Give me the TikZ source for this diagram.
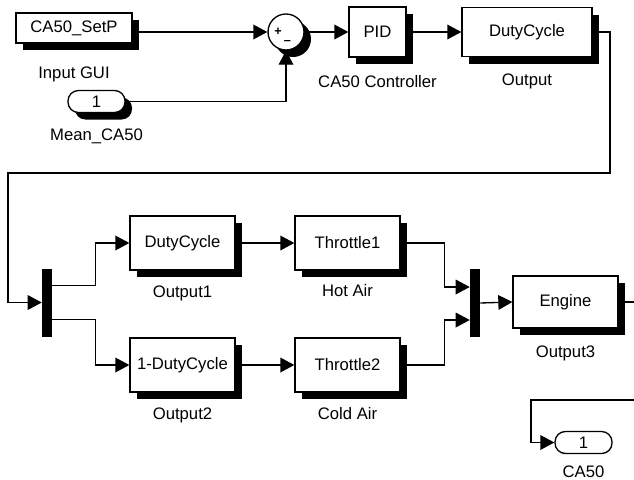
\documentclass[tikz,border=0pt]{standalone}
\usepackage{fontspec}
\setmainfont{Liberation Sans}
\usetikzlibrary{arrows.meta}
\usetikzlibrary{shadows,positioning}
\tikzstyle{sl}=[line width=1pt,>/.tip={Triangle[length=10.5pt,width=11pt]},->]
\tikzstyle{wr}=[line width=1pt]
\tikzstyle{shd}=[drop shadow={shadow xshift=5.25pt,shadow yshift=-5.25pt,fill=black,opacity=1}]
\tikzstyle{blk}=[draw,line width=1pt,fill=white,shd,inner sep=0pt]
\tikzstyle{bar}=[fill=black,minimum width=7.5pt,minimum height=51pt,inner sep=0pt]
\tikzstyle{port}=[draw,line width=1pt,fill=white,rounded corners=7.8pt,minimum width=42.75pt,minimum height=16.5pt,inner sep=0pt]
\tikzstyle{lbl}=[inner sep=0pt]
\tikzstyle{sgn}=[inner sep=0pt,font=\fontsize{9.5}{10}\bfseries]

\begin{document}
\begin{tikzpicture}[x=0.75pt,y=0.75pt,font=\fontsize{12.5}{14}\selectfont]
	\useasboundingbox (0,0) rectangle (634,-479);
	% top row
	\node[blk,minimum width=87pt,minimum height=22.5pt] (setp) at (74,-28) {CA50\_SetP};
	\node[lbl,below=17pt of setp] (setpL) {Input GUI};
	\node[blk,circle,minimum size=27pt] (sum) at (286,-32) {};
	\node[sgn] (sp) at (278,-32) {+};
	\node[sgn] (sm) at (287.5,-42) {–};
	\node[blk,port] (mean) at (96.5,-101.5) {1};
	\node[lbl,below=11.25pt of mean] (meanL) {Mean\_CA50};
	\node[blk,minimum width=42.75pt,minimum height=37.5pt] (pid) at (377.5,-32) {PID};
	\node[lbl,below=13pt of pid] (pidL) {CA50 Controller};
	\node[blk,minimum width=97.5pt,minimum height=36.75pt] (duty) at (527,-32) {DutyCycle};
	\node[lbl,below=12.5pt of duty] (dutyL) {Output};
	% middle row
	\node[bar] (demux) at (47,-302.5) {};
	\node[blk,minimum width=78.75pt,minimum height=40.5pt] (duty1) at (182.5,-243) {DutyCycle};
	\node[lbl,below=11.25pt of duty1] (duty1L) {Output1};
	\node[blk,minimum width=78.75pt,minimum height=40.5pt] (duty2) at (182.5,-365) {1-DutyCycle};
	\node[lbl,below=11.25pt of duty2] (duty2L) {Output2};
	\node[blk,minimum width=78.75pt,minimum height=40.5pt] (thr1) at (347.5,-243) {Throttle1};
	\node[lbl,below=10pt of thr1] (thr1L) {Hot Air};
	\node[blk,minimum width=78.75pt,minimum height=40.5pt] (thr2) at (347.5,-365) {Throttle2};
	\node[lbl,below=10.5pt of thr2] (thr2L) {Cold Air};
	\node[bar] (mux) at (475,-303) {};
	\node[blk,minimum width=78.75pt,minimum height=39pt] (engine) at (565.5,-302) {Engine};
	\node[lbl,below=12.5pt of engine] (engineL) {Output3};
	\node[port] (ca50) at (583.5,-442.5) {1};
	\node[lbl,below=8.5pt of ca50] (ca50L) {CA50};
	% free ends and bends
	\coordinate (loopR) at (610,-173);
	\coordinate (loopL) at (8,-173);
	\coordinate (outR) at (634,-302);
	\coordinate (inR) at (634,-400);
	\coordinate (bendC) at (531,-400);
	% signals
	\draw[sl] (setp.east |- sum.west) -- (sum.west);
	\draw[sl] (mean.east) -| (sum.south);
	\draw[sl] (sum.east) -- (pid.west);
	\draw[sl] (pid.east) -- (duty.west);
	\draw[sl] (duty.east) -| (loopR) -- (loopL) |- (demux.west);
	\draw[sl] ([yshift=12.75pt]demux.east) -- ++(43,0) |- (duty1.west);
	\draw[sl] ([yshift=-12.75pt]demux.east) -- ++(43,0) |- (duty2.west);
	\draw[sl] (duty1.east) -- (thr1.west);
	\draw[sl] (duty2.east) -- (thr2.west);
	\draw[sl] (thr1.east) -- ++(44,0) |- ([yshift=12pt]mux.west);
	\draw[sl] (thr2.east) -- ++(44,0) |- ([yshift=-12.75pt]mux.west);
	\draw[sl] (mux.east) -- (engine.west);
	\draw[wr] (engine.east) -- (outR);
	\draw[sl] (inR) -- (bendC) |- (ca50.west);
\end{tikzpicture}
\end{document}
